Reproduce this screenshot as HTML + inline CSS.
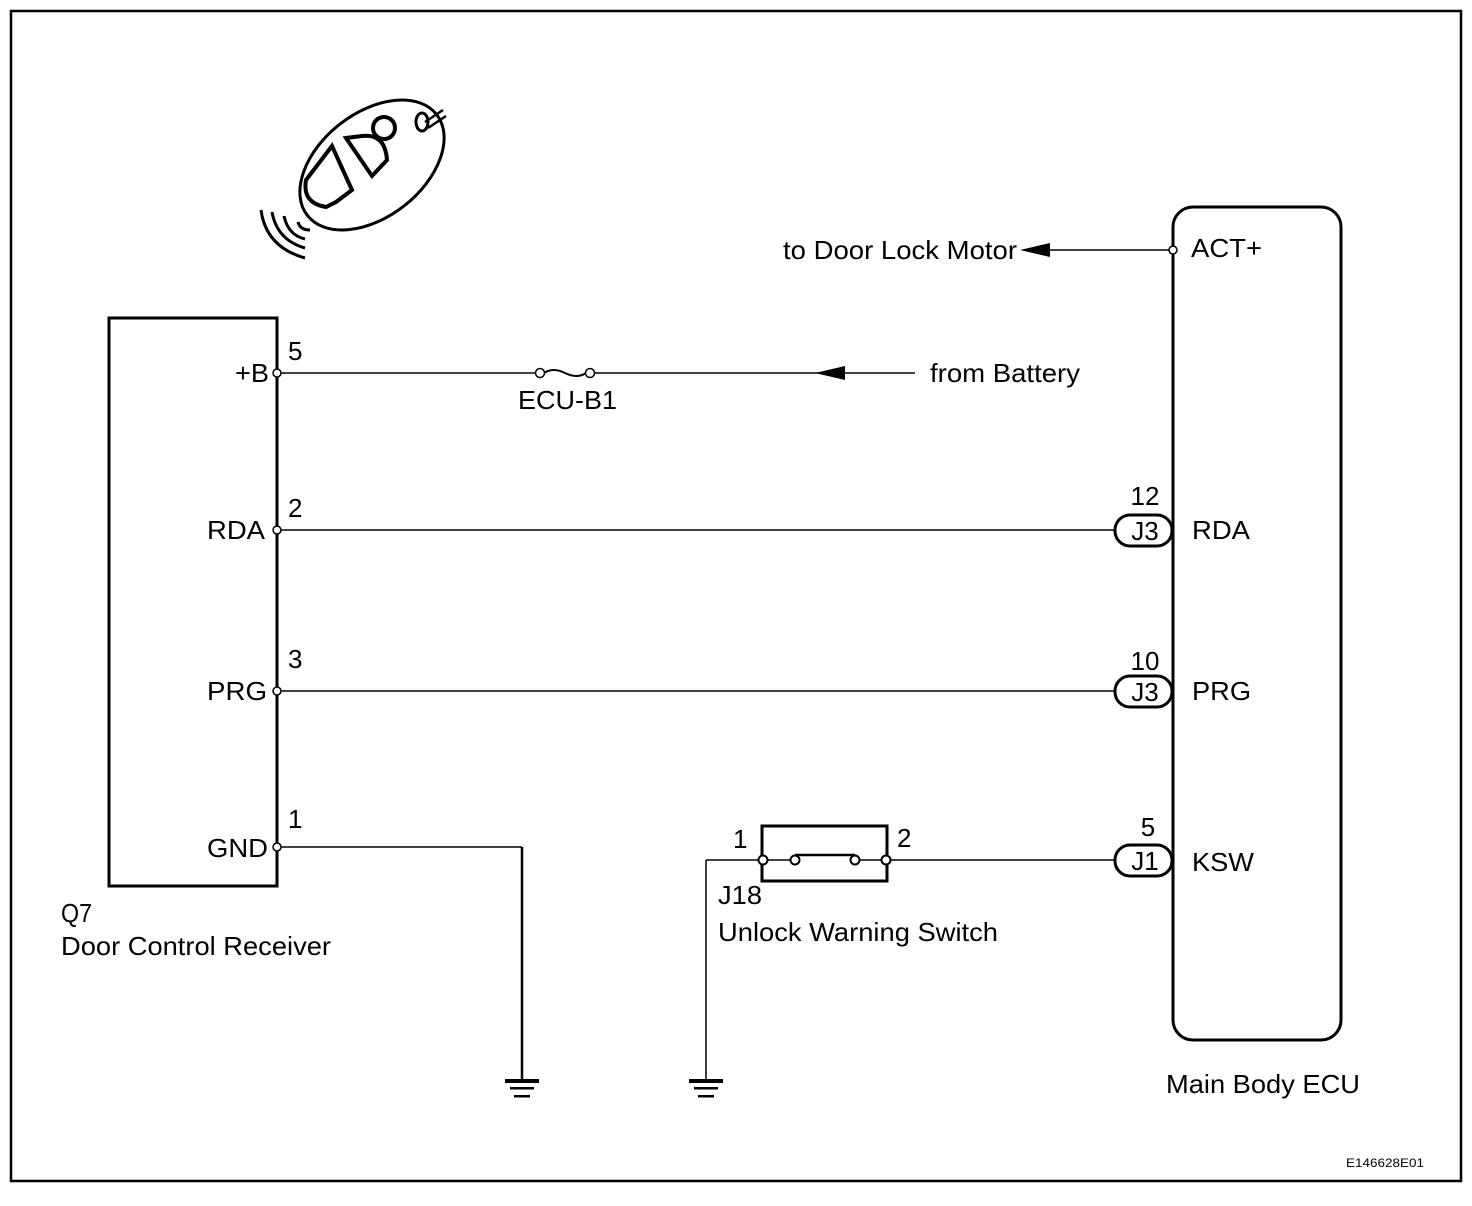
<!DOCTYPE html>
<html><head><meta charset="utf-8"><style>
html,body{margin:0;padding:0;background:#fff;}
svg{display:block;}
text{font-family:"Liberation Sans",Arial,sans-serif;fill:#000;}
</style></head><body>
<svg width="1472" height="1206" viewBox="0 0 1472 1206" xmlns="http://www.w3.org/2000/svg">
<rect x="11" y="11" width="1450" height="1170" fill="none" stroke="#000" stroke-width="2.5"/>

<!-- key fob -->
<g fill="none" stroke="#000" stroke-width="2.5">
<ellipse cx="372" cy="165" rx="82" ry="52" transform="rotate(-38 372 165)" stroke-width="3"/>
<path d="M332 146 L306 180 Q302 203 326 207 L336 202 L352 190 Z" stroke-width="4"/>
<path d="M346 138 L372 176 L387 160 Q385 133 362 136 Z" stroke-width="4"/>
<circle cx="384" cy="128" r="11" stroke-width="4"/>
<ellipse cx="422" cy="122" rx="6" ry="9" stroke-width="3"/>
<path d="M425 122 L443 110 M428 128 L446 116"/>
<path d="M261 210 Q266 247 305 258" stroke-width="3"/>
<path d="M272 212 Q277 240 305 248" stroke-width="3"/>
<path d="M284 216 Q288 235 305 239" stroke-width="3"/>
<path d="M298 222 Q300 230 310 230" stroke-width="3"/>
</g>

<rect x="109" y="318" width="168" height="568" fill="none" stroke="#000" stroke-width="3"/>
<rect x="1173" y="207" width="168" height="833" rx="20" fill="none" stroke="#000" stroke-width="3"/>

<g stroke="#000" stroke-width="1.5" fill="none">
<line x1="281" y1="373" x2="536" y2="373"/>
<line x1="594" y1="373" x2="915" y2="373"/>
<line x1="281" y1="530" x2="1115" y2="530"/>
<line x1="281" y1="691" x2="1115" y2="691"/>
<line x1="281" y1="847" x2="522" y2="847"/>
<line x1="522" y1="847" x2="522" y2="1080" stroke-width="2.5"/>
<line x1="706" y1="860" x2="759" y2="860"/>
<line x1="706" y1="860" x2="706" y2="1080"/>
<line x1="890" y1="860" x2="1115" y2="860"/>
<line x1="1050" y1="250" x2="1169" y2="250"/>
<line x1="767" y1="860" x2="791" y2="860"/>
<line x1="859" y1="860" x2="882" y2="860"/>
<line x1="795" y1="855" x2="855" y2="855" stroke-width="2.5"/>
<path d="M544 373 Q553 367 565 373 Q577 379 586 373" stroke-width="2"/>
</g>
<g fill="#fff" stroke="#000" stroke-width="1.5">
<circle cx="277" cy="373" r="4"/><circle cx="277" cy="530" r="4"/>
<circle cx="277" cy="691" r="4"/><circle cx="277" cy="847" r="4"/>
<circle cx="1173" cy="250" r="4"/>
<circle cx="540" cy="373" r="4.5"/><circle cx="590" cy="373" r="4.5"/>
</g>
<polygon points="1020,250 1050,243 1050,257" fill="#000"/>
<polygon points="815,373 845,366 845,380" fill="#000"/>

<rect x="762" y="826" width="125" height="55" fill="none" stroke="#000" stroke-width="3"/>
<g fill="#fff" stroke="#000" stroke-width="2">
<circle cx="763" cy="860" r="4.5"/><circle cx="795" cy="860" r="4.5"/>
<circle cx="855" cy="860" r="4.5"/><circle cx="886" cy="860" r="4.5"/>
</g>

<g fill="#fff" stroke="#000" stroke-width="3">
<rect x="1115" y="515" width="57" height="31" rx="15"/>
<rect x="1115" y="676" width="57" height="31" rx="15"/>
<rect x="1115" y="845" width="57" height="31" rx="15"/>
</g>
<g font-size="26" text-anchor="middle">
<text x="1145" y="540">J3</text><text x="1145" y="701">J3</text><text x="1145" y="870">J1</text>
</g>

<g fill="#000">
<rect x="505" y="1079" width="34" height="4"/><rect x="510" y="1087" width="24" height="2.5"/><rect x="514" y="1095" width="16" height="2.5"/>
<rect x="689" y="1079" width="34" height="4"/><rect x="694" y="1087" width="24" height="2.5"/><rect x="698" y="1095" width="16" height="2.5"/>
</g>

<g font-size="26" lengthAdjust="spacingAndGlyphs">
<text x="235" y="382" textLength="34" lengthAdjust="spacingAndGlyphs">+B</text>
<text x="207" y="539" textLength="58" lengthAdjust="spacingAndGlyphs">RDA</text>
<text x="207" y="700" textLength="60" lengthAdjust="spacingAndGlyphs">PRG</text>
<text x="207" y="857" textLength="61" lengthAdjust="spacingAndGlyphs">GND</text>
<text x="288" y="360">5</text>
<text x="288" y="517">2</text>
<text x="288" y="668">3</text>
<text x="288" y="828">1</text>
<text x="518" y="409" textLength="99" lengthAdjust="spacingAndGlyphs">ECU-B1</text>
<text x="930" y="382" textLength="150" lengthAdjust="spacingAndGlyphs">from Battery</text>
<text x="783" y="259" textLength="234" lengthAdjust="spacingAndGlyphs">to Door Lock Motor</text>
<text x="1191" y="257" textLength="71" lengthAdjust="spacingAndGlyphs">ACT+</text>
<text x="1192" y="539" textLength="58" lengthAdjust="spacingAndGlyphs">RDA</text>
<text x="1192" y="700" textLength="59" lengthAdjust="spacingAndGlyphs">PRG</text>
<text x="1192" y="871" textLength="62" lengthAdjust="spacingAndGlyphs">KSW</text>
<text x="1145" y="505" text-anchor="middle">12</text>
<text x="1145" y="670" text-anchor="middle">10</text>
<text x="1148" y="836" text-anchor="middle">5</text>
<text x="733" y="848">1</text>
<text x="897" y="847">2</text>
<text x="718" y="904" textLength="44" lengthAdjust="spacingAndGlyphs">J18</text>
<text x="718" y="941" textLength="280" lengthAdjust="spacingAndGlyphs">Unlock Warning Switch</text>
<text x="61" y="922" textLength="31" lengthAdjust="spacingAndGlyphs">Q7</text>
<text x="61" y="955" textLength="270" lengthAdjust="spacingAndGlyphs">Door Control Receiver</text>
<text x="1166" y="1093" textLength="194" lengthAdjust="spacingAndGlyphs">Main Body ECU</text>
<text x="1346" y="1167" font-size="12" textLength="78" lengthAdjust="spacingAndGlyphs">E146628E01</text>
</g>
</svg>
</body></html>
